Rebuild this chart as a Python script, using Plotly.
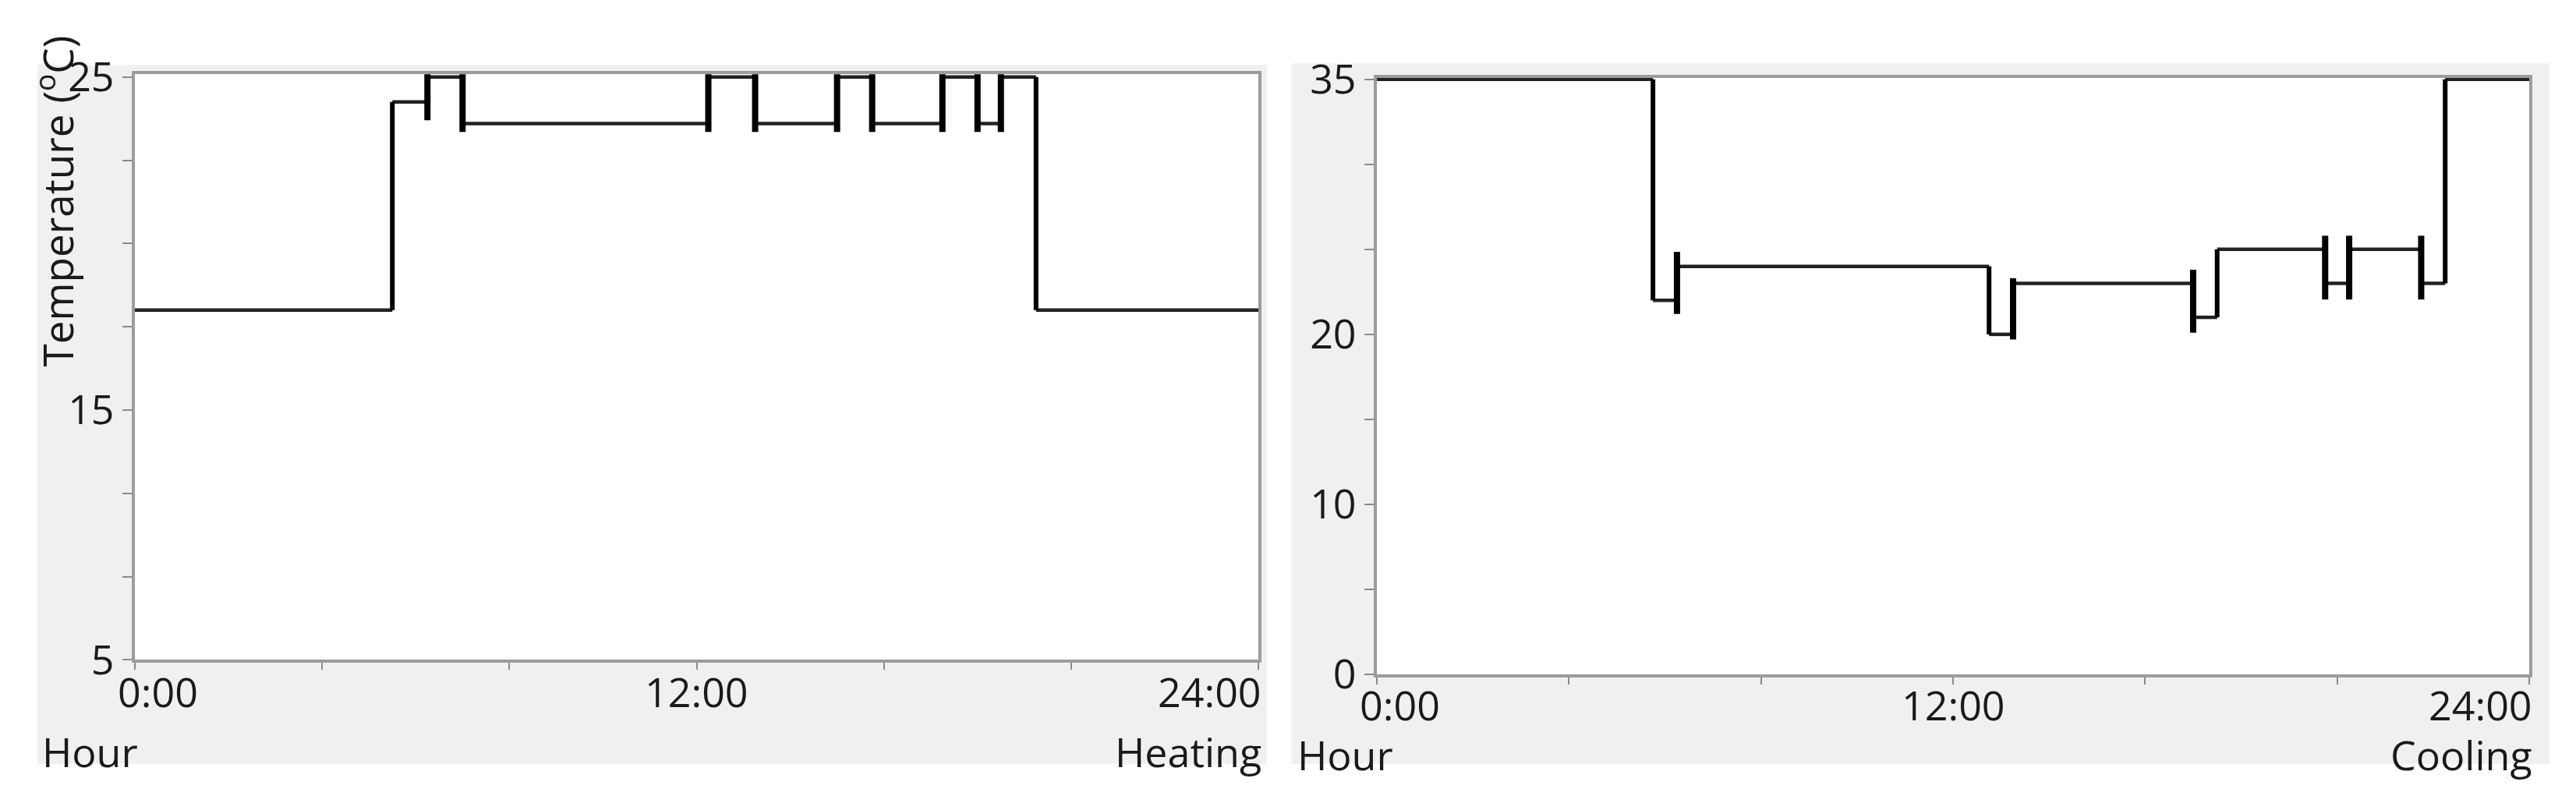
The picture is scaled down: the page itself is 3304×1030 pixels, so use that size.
import plotly.graph_objects as go

# Heating set-point schedule (hour of day, degC)
heat_hours = [0, 5.5, 6.25, 7.0, 12.25, 13.25, 15.0, 15.75, 17.25, 18.0, 18.5, 19.25, 24]
heat_temps = [18, 24.25, 25, 23.6, 25, 23.6, 25, 23.6, 25, 23.6, 25, 18, 18]
# switch handles drawn on the heating curve
heat_mark_hours = [6.25, 7.0, 12.25, 13.25, 15.0, 15.75, 17.25, 18.0, 18.5]
heat_mark_low = [23.7, 23.35, 23.35, 23.35, 23.35, 23.35, 23.35, 23.35, 23.35]
heat_mark_high = [25.9, 25.9, 25.9, 25.9, 25.9, 25.9, 25.9, 25.9, 25.9]

# Cooling set-point schedule
cool_hours = [0, 5.75, 6.25, 12.75, 13.25, 17.0, 17.5, 19.75, 20.25, 21.75, 22.25, 24]
cool_temps = [35, 22, 24, 20, 23, 21, 25, 23, 25, 23, 35, 35]
cool_mark_hours = [6.25, 13.25, 17.0, 19.75, 20.25, 21.75]
cool_mark_low = [21.2, 19.7, 20.1, 22.05, 22.05, 22.05]
cool_mark_high = [24.85, 23.3, 23.8, 25.8, 25.8, 25.8]

# axis ticks
hour_ticks = [0, 4, 8, 12, 16, 20, 24]
hour_labels = ["0:00", "12:00", "24:00"]
hour_label_pos = [0, 12, 24]
heat_tickvals = [7.5, 15, 25]
heat_ticktext = ["5", "15", "25"]
heat_minor = [10, 12.5, 17.5, 20, 22.5]
cool_tickvals = [0, 10, 20, 35]
cool_ticktext = ["0", "10", "20", "35"]
cool_minor = [5, 15, 25, 30]

W, H = 3304, 1030
FONT = "Open Sans"
TXT = "#1a1a1a"
FS = 52


def segments(hours, temps):
    hx, hy, vx, vy = [], [], [], []
    for i in range(len(hours) - 1):
        hx += [hours[i], hours[i + 1], None]
        hy += [temps[i], temps[i], None]
        if i > 0:
            vx += [hours[i], hours[i], None]
            vy += [temps[i - 1], temps[i], None]
    return hx, hy, vx, vy


def marks(hours, lo, hi):
    mx, my = [], []
    for h, a, b in zip(hours, lo, hi):
        mx += [h, h, None]
        my += [a, b, None]
    return mx, my


fig = go.Figure()

for hours, temps, mh, lo, hi, xa, ya in [
    (heat_hours, heat_temps, heat_mark_hours, heat_mark_low, heat_mark_high, "x", "y"),
    (cool_hours, cool_temps, cool_mark_hours, cool_mark_low, cool_mark_high, "x2", "y2"),
]:
    hx, hy, vx, vy = segments(hours, temps)
    mx, my = marks(mh, lo, hi)
    fig.add_trace(go.Scatter(x=hx, y=hy, mode="lines", xaxis=xa, yaxis=ya,
                             line=dict(color="#222222", width=4.5), showlegend=False))
    fig.add_trace(go.Scatter(x=vx, y=vy, mode="lines", xaxis=xa, yaxis=ya,
                             line=dict(color="#000000", width=6), showlegend=False))
    fig.add_trace(go.Scatter(x=mx, y=my, mode="lines", xaxis=xa, yaxis=ya,
                             line=dict(color="#000000", width=8), showlegend=False))

# plot areas in pixels (left, right, top, bottom)
L = (165, 1606, 55, 860)
R = (1758, 3236, 60, 880)
left_x = [L[0] / W, L[1] / W]
left_y = [1 - L[3] / H, 1 - L[2] / H]
right_x = [R[0] / W, R[1] / W]
right_y = [1 - R[3] / H, 1 - R[2] / H]

xcommon = dict(range=[0, 24], tickvals=hour_ticks, showticklabels=False, ticks="outside",
               ticklen=9, tickwidth=2, tickcolor="#8a8a8a", showgrid=False, zeroline=False,
               showline=True, linecolor="#9c9c9c", linewidth=4, mirror=True, layer="below traces")
ycommon = dict(ticks="outside", ticklen=12, tickwidth=2, showgrid=False, zeroline=False,
               showline=True, linecolor="#9c9c9c", linewidth=4, mirror=True, layer="below traces",
               tickfont=dict(family=FONT, size=FS, color=TXT))

fig.update_layout(
    width=W, height=H, autosize=False,
    margin=dict(l=0, r=0, t=0, b=0),
    paper_bgcolor="white", plot_bgcolor="white",
    xaxis=dict(domain=left_x, anchor="y", **xcommon),
    yaxis=dict(domain=left_y, anchor="x", range=[7.5, 25.08], tickvals=heat_tickvals,
               ticktext=heat_ticktext, tickcolor="#7d8aa3",
               minor=dict(tickvals=heat_minor, ticks="outside", ticklen=12, tickwidth=2,
                          tickcolor="#7d8aa3", showgrid=False), **ycommon),
    xaxis2=dict(domain=right_x, anchor="y2", **xcommon),
    yaxis2=dict(domain=right_y, anchor="x2", range=[0, 35.08], tickvals=cool_tickvals,
                ticktext=cool_ticktext, tickcolor="#8a8a8a",
                minor=dict(tickvals=cool_minor, ticks="outside", ticklen=12, tickwidth=2,
                           tickcolor="#8a8a8a", showgrid=False), **ycommon),
)

# grey panel backgrounds, then white plot areas on top of them
for x0, x1, y0, y1, col in [(40, 1617, 42, 1003, "#f0f0f0"), (1648, 3262, 40, 1003, "#f0f0f0"),
                            (L[0], L[1], L[2], L[3], "white"), (R[0], R[1], R[2], R[3], "white")]:
    fig.add_shape(type="rect", xref="paper", yref="paper", x0=x0 / W, x1=x1 / W,
                  y0=1 - y1 / H, y1=1 - y0 / H, fillcolor=col, line_width=0, layer="below")

ann = []
anchors = ["left", "center", "right"]
shifts = [-24, 0, 6]
for xa, dom, ys in [("x", left_y, -3), ("x2", right_y, -1)]:
    for lab, pos, anc, sh in zip(hour_labels, hour_label_pos, anchors, shifts):
        ann.append(dict(text=lab, x=pos, xref=xa, y=dom[0], yref="paper", xanchor=anc,
                        yanchor="top", xshift=sh, yshift=ys, showarrow=False,
                        font=dict(family=FONT, size=FS, color=TXT)))

for text, px, anc, py in [("Hour", 44, "left", 986), ("Heating", 1612, "right", 986),
                          ("Hour", 1654, "left", 990), ("Cooling", 3242, "right", 990)]:
    ann.append(dict(text=text, x=px / W, y=1 - py / H, xref="paper", yref="paper",
                    xanchor=anc, yanchor="middle", showarrow=False,
                    font=dict(family=FONT, size=FS, color=TXT)))

ann.append(dict(text="Temperature (<sup>o</sup>C)", x=62 / W, y=1.0, xref="paper",
                yref="paper", xanchor="center", yanchor="top", textangle=-90, showarrow=False,
                font=dict(family=FONT, size=53, color=TXT)))

fig.update_layout(annotations=ann)

fig.write_html("out.html")
